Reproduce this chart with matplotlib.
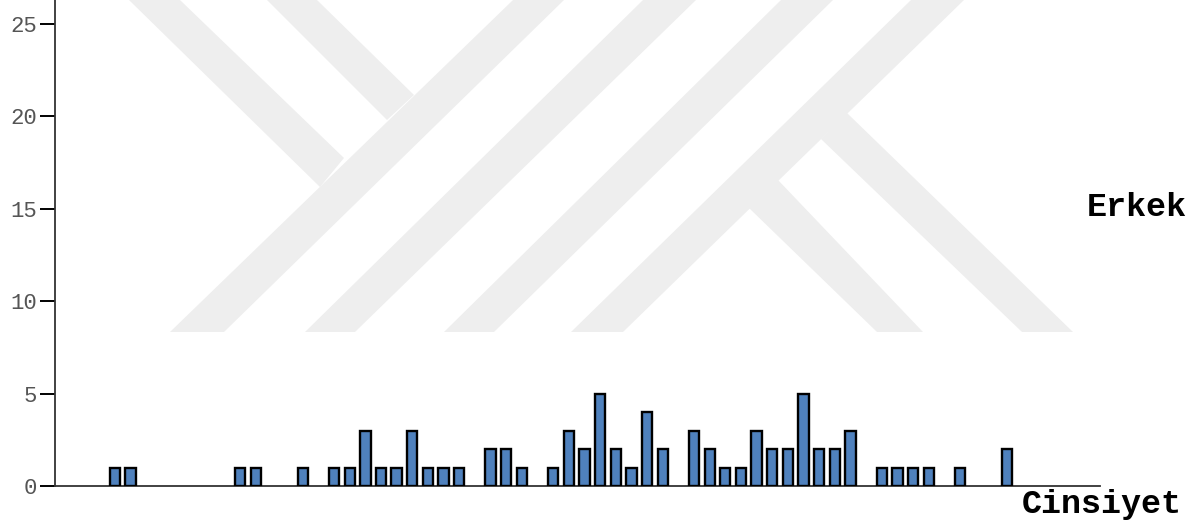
import matplotlib.pyplot as plt
from matplotlib.patches import Polygon
import numpy as np

# histogram counts per bin (bins without cases are 0)
counts = [1, 1, 0, 0, 0, 0, 0, 0, 1, 1,
          0, 0, 1, 0, 1, 1, 3, 1, 1, 3,
          1, 1, 1, 0, 2, 2, 1, 0, 1, 3,
          2, 5, 2, 1, 4, 2, 0, 3, 2, 1,
          1, 3, 2, 2, 5, 2, 2, 3, 0, 1,
          1, 1, 1, 0, 1, 0, 0, 2]
yticks = [0, 5, 10, 15, 20, 25]
panel_label = "Erkek"
axis_title = "Cinsiyet"

W, H = 1202, 526
fig = plt.figure(figsize=(W / 100, H / 100), dpi=100)
fig.patch.set_facecolor("white")


def px(pts):
    # pixel coords (origin top-left) -> figure fraction
    return [(x / W, 1 - y / H) for x, y in pts]


# background logo stripes
stripes = [
    [(513, 0), (564, 0), (224, 332), (170, 332)],
    [(643, 0), (696, 0), (355, 332), (305, 332)],
    [(781, 0), (833, 0), (494, 332), (444, 332)],
    [(911, 0), (964, 0), (623, 332), (571, 332)],
    [(129, 0), (180, 0), (344, 158), (320, 187)],
    [(267, 0), (317, 0), (414, 95), (387, 120)],
    [(847, 113), (1073, 332), (1022, 332), (821, 139)],
    [(778, 180), (923, 332), (877, 332), (749, 208)],
]
for s in stripes:
    fig.add_artist(Polygon(px(s), closed=True, transform=fig.transFigure,
                           facecolor="#eeeeee", edgecolor="none", zorder=-5))

ax = fig.add_axes([55 / W, 1 - 486 / H, (1100 - 55) / W, 486 / H])
ax.set_facecolor("none")

x = np.arange(len(counts))
y = np.array(counts)
mask = y > 0
ax.bar(x[mask], y[mask], width=0.66, color="#4f81bd", edgecolor="black",
       linewidth=1.7, zorder=3)

ax.set_xlim(-3.83, 62.94)
ax.set_ylim(0, 26.3)
ax.set_yticks(yticks)
ax.set_xticks([])

for side in ["top", "right"]:
    ax.spines[side].set_visible(False)
for side in ["left", "bottom"]:
    ax.spines[side].set_color("#333333")
    ax.spines[side].set_linewidth(1.3)

ax.tick_params(axis="y", direction="out", length=11, width=1.4, color="black",
               pad=2, labelsize=16, labelcolor="#555555")
for lab in ax.get_yticklabels():
    lab.set_family("Liberation Mono")

fig.text(1187 / W, 1 - 208 / H, panel_label, ha="right", va="center",
         family="Liberation Mono", fontweight="bold", fontsize=24)
fig.text(1182 / W, 1 - 505 / H, axis_title, ha="right", va="center",
         family="Liberation Mono", fontweight="bold", fontsize=24)

fig.savefig("out.png", dpi=100)
